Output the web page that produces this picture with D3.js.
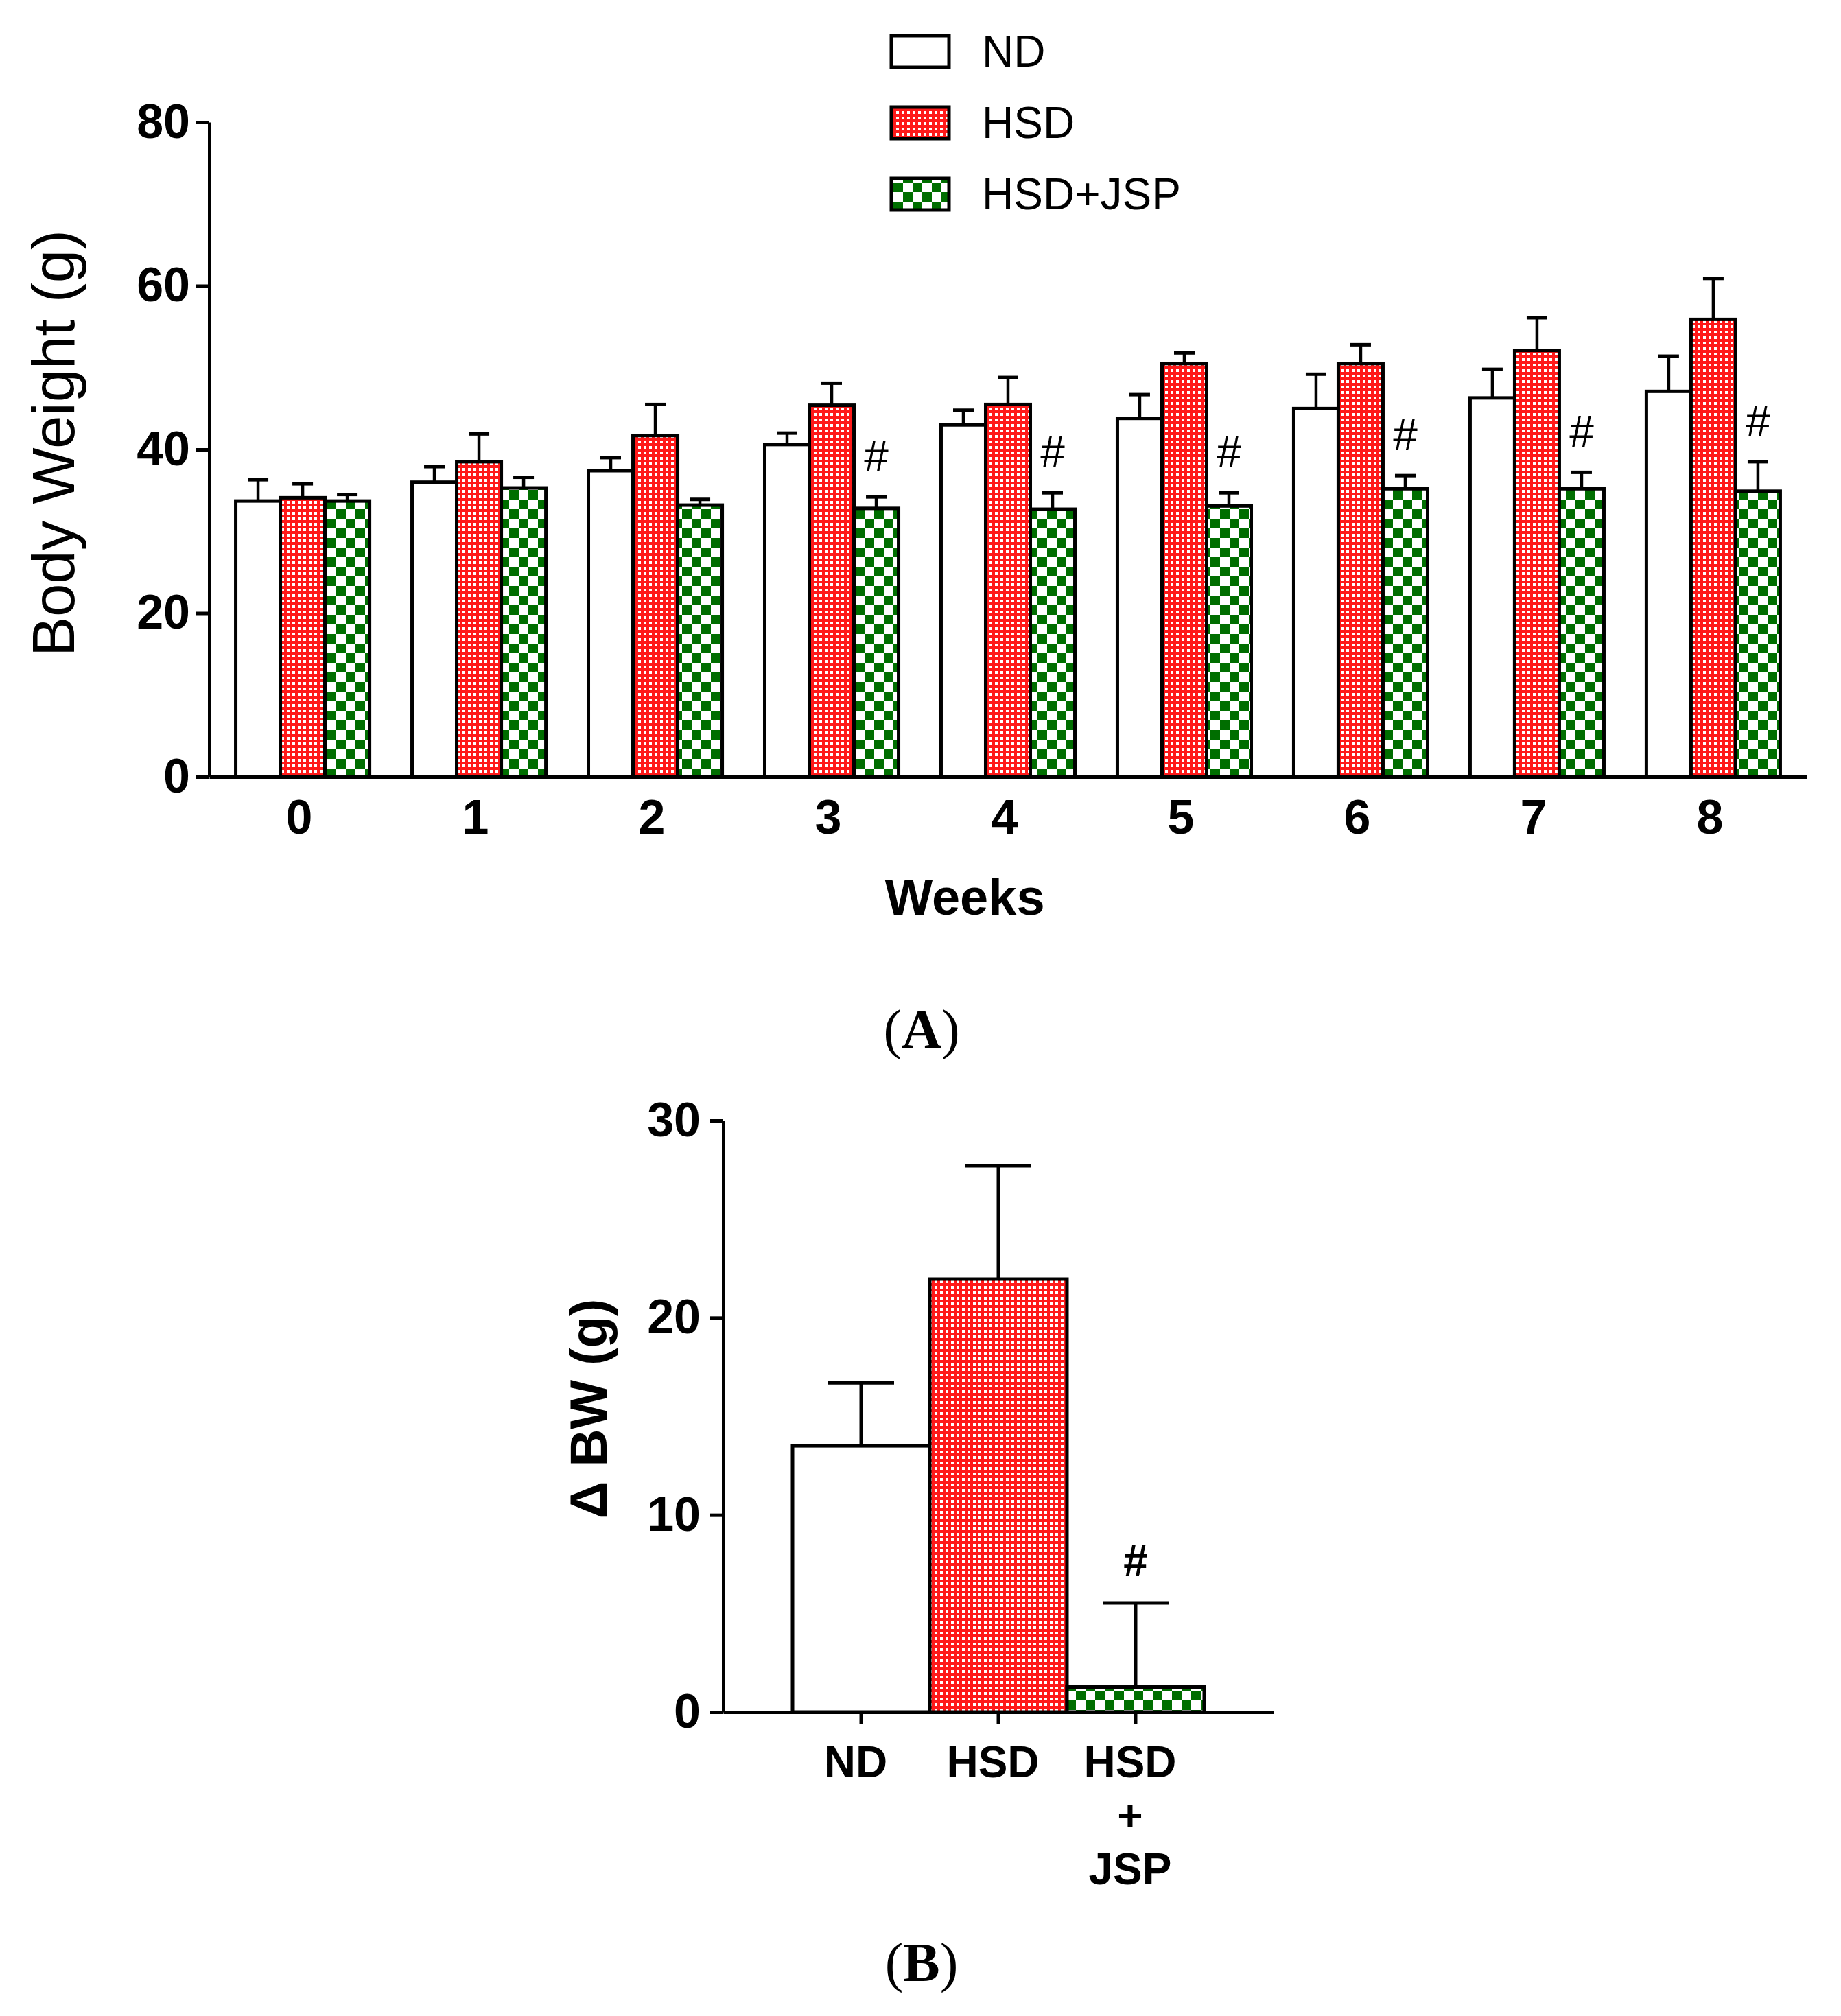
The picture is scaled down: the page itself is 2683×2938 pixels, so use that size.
<!DOCTYPE html>
<html>
<head>
<meta charset="utf-8">
<script src="https://cdn.jsdelivr.net/npm/d3@7"></script>
<style>
  body { margin: 0; background: #fff; }
  svg { display: block; }
</style>
</head>
<body>
<div id="figure"></div>
<script>
// ---- data ----
const weeks = ['0', '1', '2', '3', '4', '5', '6', '7', '8'];
const groups = ['ND', 'HSD', 'HSD+JSP'];

const ndMean = [33.7, 36.0, 37.4, 40.6, 43.0, 43.8, 45.0, 46.3, 47.1];
const ndSem = [2.6, 1.9, 1.6, 1.4, 1.8, 2.9, 4.2, 3.5, 4.3];
const hsdMean = [34.1, 38.5, 41.7, 45.4, 45.5, 50.5, 50.5, 52.1, 55.9];
const hsdSem = [1.7, 3.4, 3.8, 2.7, 3.3, 1.3, 2.3, 4.0, 5.0];
const jspMean = [33.7, 35.3, 33.2, 32.8, 32.7, 33.1, 35.2, 35.2, 34.9];
const jspSem = [0.8, 1.3, 0.7, 1.4, 2.0, 1.6, 1.6, 2.0, 3.6];
const jspSignif = [false, false, false, true, true, true, true, true, true];

const bwLabels = [['ND'], ['HSD'], ['HSD', '+', 'JSP']];
const bwMean = [13.5, 21.96, 1.27];
const bwSem = [3.2, 5.74, 4.26];
const bwSignif = [false, false, true];

const yTicksA = [0, 20, 40, 60, 80];
const yTicksB = [0, 10, 20, 30];

// ---- setup ----
const W = 2683, H = 2938;
const sans = '"Liberation Sans", Arial, Helvetica, sans-serif';
const serif = '"Liberation Serif", "Times New Roman", serif';

const svg = d3.select('#figure').append('svg')
  .attr('width', W)
  .attr('height', H);

svg.append('rect').attr('width', W).attr('height', H).attr('fill', '#fff');

const defs = svg.append('defs');

// red with white dots
const pRed = defs.append('pattern')
  .attr('id', 'pat-hsd')
  .attr('patternUnits', 'userSpaceOnUse')
  .attr('width', 8).attr('height', 8);
pRed.append('rect').attr('width', 8).attr('height', 8).attr('fill', '#ff1a1a');
pRed.append('rect').attr('x', 2).attr('y', 2).attr('width', 4).attr('height', 4).attr('fill', '#fff');

// green / white checkerboard
const cell = 14;
const pGreen = defs.append('pattern')
  .attr('id', 'pat-jsp')
  .attr('patternUnits', 'userSpaceOnUse')
  .attr('width', cell * 2).attr('height', cell * 2);
pGreen.append('rect').attr('width', cell * 2).attr('height', cell * 2).attr('fill', '#fff');
pGreen.append('rect').attr('width', cell).attr('height', cell).attr('fill', '#006e00');
pGreen.append('rect').attr('x', cell).attr('y', cell).attr('width', cell).attr('height', cell).attr('fill', '#006e00');

const fills = { 'ND': '#fff', 'HSD': 'url(#pat-hsd)', 'HSD+JSP': 'url(#pat-jsp)' };

const seriesA = [
  { key: 'ND', mean: ndMean, sem: ndSem },
  { key: 'HSD', mean: hsdMean, sem: hsdSem },
  { key: 'HSD+JSP', mean: jspMean, sem: jspSem, signif: jspSignif }
];

// ============ panel A ============
const A = { left: 305, right: 2633, top: 178, bottom: 1132 };

const xA = d3.scaleBand()
  .domain(weeks)
  .range([A.left, A.right])
  .paddingInner(0.241)
  .paddingOuter(0.15);

const xAInner = d3.scaleBand()
  .domain(groups)
  .range([0, xA.bandwidth()]);

const yA = d3.scaleLinear().domain([0, 80]).range([A.bottom, A.top]);

const gA = svg.append('g').attr('id', 'panel-a');

const barsA = gA.append('g').attr('class', 'bars');
seriesA.forEach(s => {
  const rows = weeks.map((w, i) => ({ week: w, mean: s.mean[i], sem: s.sem[i], signif: s.signif ? s.signif[i] : false }));
  const g = barsA.append('g').attr('class', 'series');

  g.selectAll('rect')
    .data(rows)
    .join('rect')
    .attr('x', d => xA(d.week) + xAInner(s.key))
    .attr('y', d => yA(d.mean))
    .attr('width', xAInner.bandwidth())
    .attr('height', d => yA(0) - yA(d.mean))
    .attr('fill', fills[s.key])
    .attr('stroke', '#000')
    .attr('stroke-width', 5);

  const cx = d => xA(d.week) + xAInner(s.key) + xAInner.bandwidth() / 2;

  g.selectAll('line.err')
    .data(rows)
    .join('line')
    .attr('class', 'err')
    .attr('x1', cx).attr('x2', cx)
    .attr('y1', d => yA(d.mean))
    .attr('y2', d => yA(d.mean + d.sem))
    .attr('stroke', '#000')
    .attr('stroke-width', 4.5);

  g.selectAll('line.cap')
    .data(rows)
    .join('line')
    .attr('class', 'cap')
    .attr('x1', d => cx(d) - 15).attr('x2', d => cx(d) + 15)
    .attr('y1', d => yA(d.mean + d.sem))
    .attr('y2', d => yA(d.mean + d.sem))
    .attr('stroke', '#000')
    .attr('stroke-width', 5);

  g.selectAll('text.sig')
    .data(rows.filter(d => d.signif))
    .join('text')
    .attr('class', 'sig')
    .attr('x', cx)
    .attr('y', d => yA(d.mean + d.sem) - 37)
    .attr('text-anchor', 'middle')
    .style('font-family', sans)
    .style('font-size', '64px')
    .text('#');
});

// axes A
const yAxisA = d3.axisLeft(yA)
  .tickValues(yTicksA)
  .tickSize(19)
  .tickSizeOuter(0)
  .tickPadding(9);

gA.append('g')
  .attr('transform', `translate(${A.left},0)`)
  .call(yAxisA)
  .call(g => g.select('.domain').attr('stroke-width', 5))
  .call(g => g.selectAll('.tick line').attr('stroke-width', 5))
  .call(g => g.selectAll('.tick text')
    .style('font-family', sans)
    .style('font-weight', 'bold')
    .style('font-size', '70px')
    .attr('fill', '#000'));

const xAxisA = d3.axisBottom(xA)
  .tickSize(0)
  .tickSizeOuter(0)
  .tickPadding(33);

gA.append('g')
  .attr('transform', `translate(0,${A.bottom})`)
  .call(xAxisA)
  .call(g => g.select('.domain').attr('stroke-width', 5))
  .call(g => g.selectAll('.tick text')
    .attr('dx', -5)
    .style('font-family', sans)
    .style('font-weight', 'bold')
    .style('font-size', '70px')
    .attr('fill', '#000'));

gA.append('text')
  .attr('transform', 'translate(108,646) rotate(-90)')
  .attr('text-anchor', 'middle')
  .style('font-family', sans)
  .style('font-size', '87px')
  .text('Body Weight (g)');

gA.append('text')
  .attr('x', (A.left + A.right) / 2 - 63)
  .attr('y', 1333)
  .attr('text-anchor', 'middle')
  .style('font-family', sans)
  .style('font-weight', 'bold')
  .style('font-size', '74px')
  .text('Weeks');

// legend
const legend = gA.append('g').attr('class', 'legend');
groups.forEach((key, i) => {
  const yBase = 97 + i * 104;
  legend.append('rect')
    .attr('x', 1299).attr('y', yBase - 45)
    .attr('width', 84).attr('height', 46)
    .attr('fill', fills[key])
    .attr('stroke', '#000')
    .attr('stroke-width', 5);
  legend.append('text')
    .attr('x', 1431).attr('y', yBase)
    .style('font-family', sans)
    .style('font-size', '64px')
    .text(key);
});

// panel label
function panelLabel(letter, x, y) {
  const t = svg.append('text')
    .attr('x', x).attr('y', y)
    .attr('text-anchor', 'middle')
    .style('font-family', serif)
    .style('font-size', '80px');
  t.append('tspan').text('(');
  t.append('tspan').style('font-weight', 'bold').text(letter);
  t.append('tspan').text(')');
}
panelLabel('A', 1343, 1527);

// ============ panel B ============
const B = { left: 1054, right: 1856, top: 1633, bottom: 2495 };

const xB = d3.scaleBand()
  .domain(groups)
  .range([B.left, B.right])
  .paddingInner(0)
  .paddingOuter(0.505);

const yB = d3.scaleLinear().domain([0, 30]).range([B.bottom, B.top]);

const gB = svg.append('g').attr('id', 'panel-b');

const rowsB = groups.map((k, i) => ({ key: k, mean: bwMean[i], sem: bwSem[i], signif: bwSignif[i], label: bwLabels[i] }));

gB.selectAll('rect.bar')
  .data(rowsB)
  .join('rect')
  .attr('class', 'bar')
  .attr('x', d => xB(d.key))
  .attr('y', d => yB(d.mean))
  .attr('width', xB.bandwidth())
  .attr('height', d => yB(0) - yB(d.mean))
  .attr('fill', d => fills[d.key])
  .attr('stroke', '#000')
  .attr('stroke-width', 5);

const cxB = d => xB(d.key) + xB.bandwidth() / 2;

gB.selectAll('line.err')
  .data(rowsB)
  .join('line')
  .attr('class', 'err')
  .attr('x1', cxB).attr('x2', cxB)
  .attr('y1', d => yB(d.mean))
  .attr('y2', d => yB(d.mean + d.sem))
  .attr('stroke', '#000')
  .attr('stroke-width', 5);

gB.selectAll('line.cap')
  .data(rowsB)
  .join('line')
  .attr('class', 'cap')
  .attr('x1', d => cxB(d) - 48).attr('x2', d => cxB(d) + 48)
  .attr('y1', d => yB(d.mean + d.sem))
  .attr('y2', d => yB(d.mean + d.sem))
  .attr('stroke', '#000')
  .attr('stroke-width', 5);

gB.selectAll('text.sig')
  .data(rowsB.filter(d => d.signif))
  .join('text')
  .attr('class', 'sig')
  .attr('x', cxB)
  .attr('y', d => yB(d.mean + d.sem) - 39)
  .attr('text-anchor', 'middle')
  .style('font-family', sans)
  .style('font-weight', 'bold')
  .style('font-size', '64px')
  .text('#');

const yAxisB = d3.axisLeft(yB)
  .tickValues(yTicksB)
  .tickSize(19)
  .tickSizeOuter(0)
  .tickPadding(14);

gB.append('g')
  .attr('transform', `translate(${B.left},0)`)
  .call(yAxisB)
  .call(g => g.select('.domain').attr('stroke-width', 5))
  .call(g => g.selectAll('.tick line').attr('stroke-width', 5))
  .call(g => g.selectAll('.tick text')
    .style('font-family', sans)
    .style('font-weight', 'bold')
    .style('font-size', '70px')
    .attr('fill', '#000'));

const xAxisB = d3.axisBottom(xB)
  .tickSize(18)
  .tickSizeOuter(0)
  .tickFormat('');

gB.append('g')
  .attr('transform', `translate(0,${B.bottom})`)
  .call(xAxisB)
  .call(g => g.select('.domain').attr('stroke-width', 5))
  .call(g => g.selectAll('.tick line').attr('stroke-width', 5));

// multi-line category labels
gB.selectAll('text.cat')
  .data(rowsB)
  .join('text')
  .attr('class', 'cat')
  .attr('text-anchor', 'middle')
  .style('font-family', sans)
  .style('font-weight', 'bold')
  .style('font-size', '64px')
  .each(function (d) {
    const t = d3.select(this);
    d.label.forEach((line, i) => {
      t.append('tspan')
        .attr('x', cxB(d) - 8)
        .attr('y', 2590 + i * 78)
        .text(line);
    });
  });

gB.append('text')
  .attr('transform', 'translate(884,2053) rotate(-90)')
  .attr('text-anchor', 'middle')
  .style('font-family', sans)
  .style('font-weight', 'bold')
  .style('font-size', '76px')
  .text('\u0394 BW (g)');

panelLabel('B', 1343, 2887);
</script>
</body>
</html>
